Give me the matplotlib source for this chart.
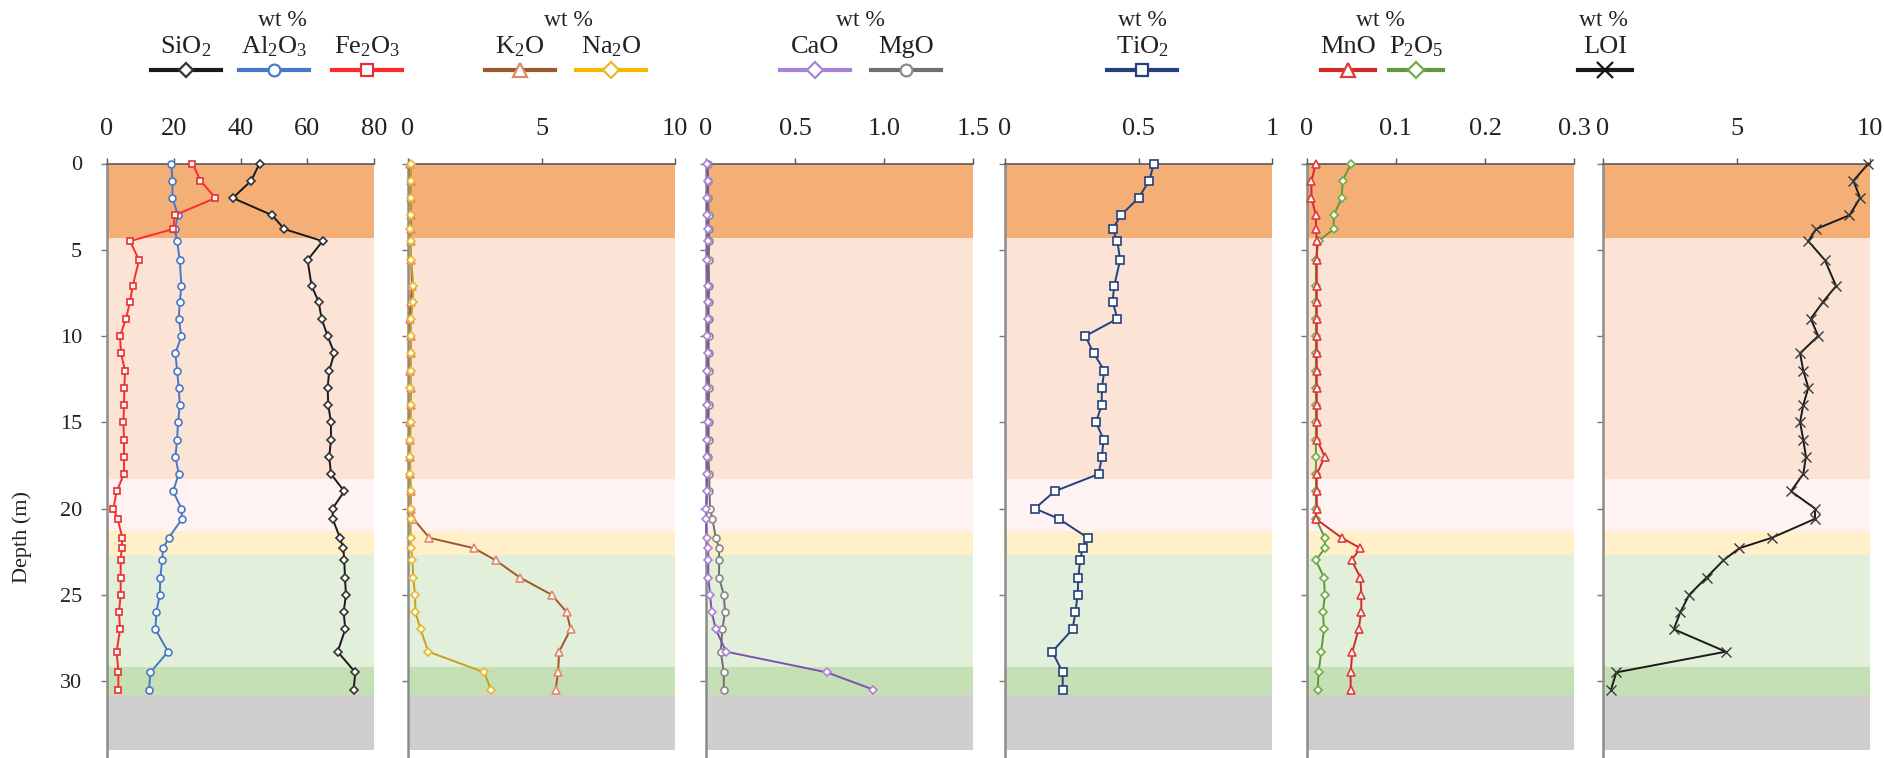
import matplotlib.pyplot as plt
from matplotlib.lines import Line2D

plt.rcParams['font.family'] = ['Liberation Serif', 'DejaVu Serif']
plt.rcParams['mathtext.fontset'] = 'custom'
plt.rcParams['mathtext.rm'] = 'Liberation Serif'
plt.rcParams['mathtext.it'] = 'Liberation Serif:italic'

# sample depths (m)
depth = [0, 1, 2, 3, 3.8, 4.5, 5.6, 7.1, 8, 9, 10, 11, 12, 13, 14, 15, 16,
         17, 18, 19, 20, 20.6, 21.7, 22.3, 23, 24, 25, 26, 27, 28.3, 29.5, 30.5]

# wt %
sio2 = [45.7, 43.2, 37.7, 49.5, 53.1, 64.6, 60.1, 61.3, 63.4, 64.3, 66.1, 68.1, 66.6, 66.1, 66.3, 67.1, 67.1,
        66.6, 67.1, 71.1, 67.6, 67.6, 69.8, 70.8, 71.1, 71.3, 71.6, 70.9, 71.4, 69.1, 74.4, 73.9]
al2o3 = [19.3, 19.6, 19.6, 21.3, 20.3, 21.0, 21.8, 22.3, 21.8, 21.5, 22.3, 20.5, 21.0, 21.5, 21.8, 21.3, 21.0,
         20.5, 21.5, 19.8, 22.3, 22.5, 18.5, 16.8, 16.5, 16.0, 15.8, 14.8, 14.5, 18.3, 13.0, 12.6]
fe2o3 = [25.6, 28.0, 32.5, 20.3, 19.8, 6.9, 9.6, 7.7, 6.9, 5.7, 3.9, 4.2, 5.4, 5.2, 5.1, 4.9, 5.1,
         5.1, 5.1, 2.9, 1.9, 3.2, 4.6, 4.4, 4.1, 4.1, 4.1, 3.6, 3.9, 2.9, 3.4, 3.4]
k2o = [0.08, 0.1, 0.1, 0.12, 0.1, 0.1, 0.12, 0.15, 0.1, 0.08, 0.1, 0.1, 0.08, 0.1, 0.1, 0.08, 0.08,
       0.08, 0.08, 0.1, 0.1, 0.2, 0.8, 2.47, 3.28, 4.19, 5.38, 5.94, 6.09, 5.66, 5.62, 5.53]
na2o = [0.12, 0.1, 0.1, 0.1, 0.08, 0.1, 0.12, 0.2, 0.18, 0.12, 0.1, 0.1, 0.1, 0.08, 0.1, 0.1, 0.08,
        0.08, 0.08, 0.1, 0.1, 0.1, 0.1, 0.12, 0.16, 0.2, 0.26, 0.28, 0.47, 0.76, 2.86, 3.1]
cao = [0.005, 0.01, 0.005, 0.005, 0.01, 0.01, 0.005, 0.01, 0.01, 0.01, 0.008, 0.01, 0.008, 0.008, 0.008, 0.01, 0.008,
       0.004, 0.006, 0.006, 0.0, 0.0, 0.004, 0.013, 0.013, 0.013, 0.023, 0.032, 0.055, 0.113, 0.68, 0.94]
mgo = [0.01, 0.012, 0.012, 0.015, 0.015, 0.018, 0.015, 0.018, 0.015, 0.015, 0.015, 0.015, 0.015, 0.018, 0.015, 0.015, 0.015,
       0.013, 0.019, 0.019, 0.023, 0.036, 0.055, 0.073, 0.074, 0.073, 0.10, 0.107, 0.092, 0.083, 0.10, 0.10]
tio2 = [0.558, 0.54, 0.50, 0.434, 0.403, 0.421, 0.431, 0.409, 0.403, 0.421, 0.301, 0.332, 0.372, 0.363, 0.362, 0.341, 0.369,
        0.363, 0.351, 0.186, 0.112, 0.202, 0.31, 0.291, 0.281, 0.275, 0.272, 0.264, 0.253, 0.177, 0.216, 0.216]
mno = [0.010, 0.005, 0.005, 0.010, 0.010, 0.011, 0.011, 0.011, 0.011, 0.011, 0.011, 0.011, 0.011, 0.011, 0.011, 0.011, 0.011,
       0.020, 0.011, 0.011, 0.011, 0.010, 0.039, 0.060, 0.050, 0.060, 0.061, 0.061, 0.058, 0.051, 0.049, 0.049]
p2o5 = [0.0496, 0.040, 0.039, 0.030, 0.030, 0.013, 0.010, 0.010, 0.010, 0.010, 0.010, 0.010, 0.010, 0.010, 0.010, 0.010, 0.010,
        0.010, 0.010, 0.010, 0.010, 0.010, 0.020, 0.020, 0.010, 0.019, 0.020, 0.018, 0.019, 0.016, 0.013, 0.012]
loi = [9.94, 9.38, 9.63, 9.23, 7.98, 7.69, 8.31, 8.73, 8.25, 7.78, 8.06, 7.38, 7.5, 7.69, 7.5, 7.38, 7.5,
       7.6, 7.5, 7.04, 7.94, 7.94, 6.32, 5.11, 4.51, 3.88, 3.23, 2.9, 2.65, 4.6, 0.5, 0.3]

# layer bands (depth from / to)
band_top = [0, 4.3, 18.3, 21.3, 22.7, 29.2, 30.8]
band_bot = [4.3, 18.3, 21.3, 22.7, 29.2, 30.8, 34.0]
band_col = ['#F4AF76', '#FBE4D5', '#FEF2F2', '#FFF0C9', '#E2EFDA', '#C5E0B4', '#D0CECE']

panel_xlim = [(0, 80), (0, 10), (0, 1.5), (0, 1), (0, 0.3), (0, 10)]
panel_ticks = [[0, 20, 40, 60, 80], [0, 5, 10], [0, 0.5, 1.0, 1.5], [0, 0.5, 1], [0, 0.1, 0.2, 0.3], [0, 5, 10]]
panel_ticklabels = [['0', '20', '40', '60', '80'], ['0', '5', '10'], ['0', '0.5', '1.0', '1.5'],
                    ['0', '0.5', '1'], ['0', '0.1', '0.2', '0.3'], ['0', '5', '10']]

# series: (panel, label, values, line colour, marker, marker edge, marker size)
series = [
    (0, r'SiO$_2$', sio2, '#1a1a1a', 'D', '#333333', 4),
    (0, r'Al$_2$O$_3$', al2o3, '#4a78c8', 'o', '#4a78c8', 5),
    (0, r'Fe$_2$O$_3$', fe2o3, '#ff2a2a', 's', '#e83030', 5),
    (1, r'K$_2$O', k2o, '#9c5a2c', '^', '#e0886a', 6),
    (1, r'Na$_2$O', na2o, '#c9a020', 'D', '#e8b830', 4.5),
    (2, 'MgO', mgo, '#6f6f6f', 'o', '#8a8a8a', 5),
    (2, 'CaO', cao, '#7d52b0', 'D', '#a883d8', 4.5),
    (3, r'TiO$_2$', tio2, '#24407e', 's', '#24407e', 5.5),
    (4, r'P$_2$O$_5$', p2o5, '#5e9a3a', 'D', '#70ad47', 4.5),
    (4, 'MnO', mno, '#d02a2a', '^', '#e03a3a', 6),
    (5, 'LOI', loi, '#1a1a1a', 'x', '#3a3a3a', 6.5),
]

# legend (pixel x of entry centre, half-width of sample line)
legend_x = {r'SiO$_2$': 186, r'Al$_2$O$_3$': 274, r'Fe$_2$O$_3$': 367, r'K$_2$O': 520, r'Na$_2$O': 611,
            'CaO': 815, 'MgO': 906, r'TiO$_2$': 1142, 'MnO': 1348, r'P$_2$O$_5$': 1416, 'LOI': 1605}
legend_half = {r'MnO': 27, r'P$_2$O$_5$': 27, 'LOI': 27}
legend_col = {'CaO': '#a883d8', r'Na$_2$O': '#f5b800', r'K$_2$O': '#9c5a2c'}
wt_x = [282, 568, 860, 1142, 1380, 1603]

W, H = 1884, 758
fig = plt.figure(figsize=(W / 100, H / 100), dpi=100)

panel_left = [107, 408, 706, 1005, 1307, 1603]
panel_w = 267
top_px = 163.5
px_per_m = 17.25
ymax = 35
bot_px = top_px + ymax * px_per_m

axes = []
for i in range(6):
    ax = fig.add_axes([panel_left[i] / W, 1 - bot_px / H, panel_w / W, (bot_px - top_px) / H])
    ax.set_xlim(*panel_xlim[i])
    ax.set_ylim(ymax, 0)
    for t, b, c in zip(band_top, band_bot, band_col):
        ax.axhspan(t, b, color=c, lw=0, zorder=0)
    ax.xaxis.tick_top()
    ax.set_xticks(panel_ticks[i])
    ax.set_xticklabels(panel_ticklabels[i])
    ax.set_yticks(range(0, 36, 5))
    ax.tick_params(axis='x', length=4, width=1, colors='#555555', labelcolor='#222222', labelsize=19, pad=13)
    ax.tick_params(axis='y', length=4, width=1, colors='#777777', labelcolor='#222222', labelsize=16, pad=14)
    if i > 0:
        ax.tick_params(axis='y', labelleft=False)
    ax.spines['right'].set_visible(False)
    ax.spines['bottom'].set_visible(False)
    ax.spines['left'].set_color('#8c8c8c')
    ax.spines['left'].set_linewidth(1.8)
    ax.spines['top'].set_color('#595959')
    ax.spines['top'].set_linewidth(1.2)
    ax.set_facecolor('none')
    axes.append(ax)

for p, name, vals, col, mk, mec, ms in series:
    ax = axes[p]
    ax.plot(vals, depth, color=col, lw=1.4, marker=mk, ms=ms, mfc='white', mec=mec,
            mew=1.2 if mk != 'x' else 1.0, zorder=3, clip_on=False)

    # legend entry drawn in figure space
    cx = legend_x[name]
    hw = legend_half.get(name, 35)
    lc = legend_col.get(name, col)
    y_line = 1 - 70 / H
    fig.add_artist(Line2D([(cx - hw) / W, cx / W, (cx + hw) / W], [y_line] * 3,
                          transform=fig.transFigure, color=lc, lw=3.0, marker=mk,
                          markevery=[1], ms=ms * 1.7, mfc='white', mec=mec if mk != 'x' else '#111111',
                          mew=1.6))
    fig.text(cx / W, 1 - 47 / H, name, ha='center', va='center', fontsize=19, color='#222222')

for x in wt_x:
    fig.text(x / W, 1 - 20 / H, 'wt %', ha='center', va='center', fontsize=17, color='#222222')

fig.text(22 / W, 1 - 537 / H, 'Depth (m)', rotation=90, ha='center', va='center',
         fontsize=16, color='#222222')

fig.savefig('out.png', dpi=100)
